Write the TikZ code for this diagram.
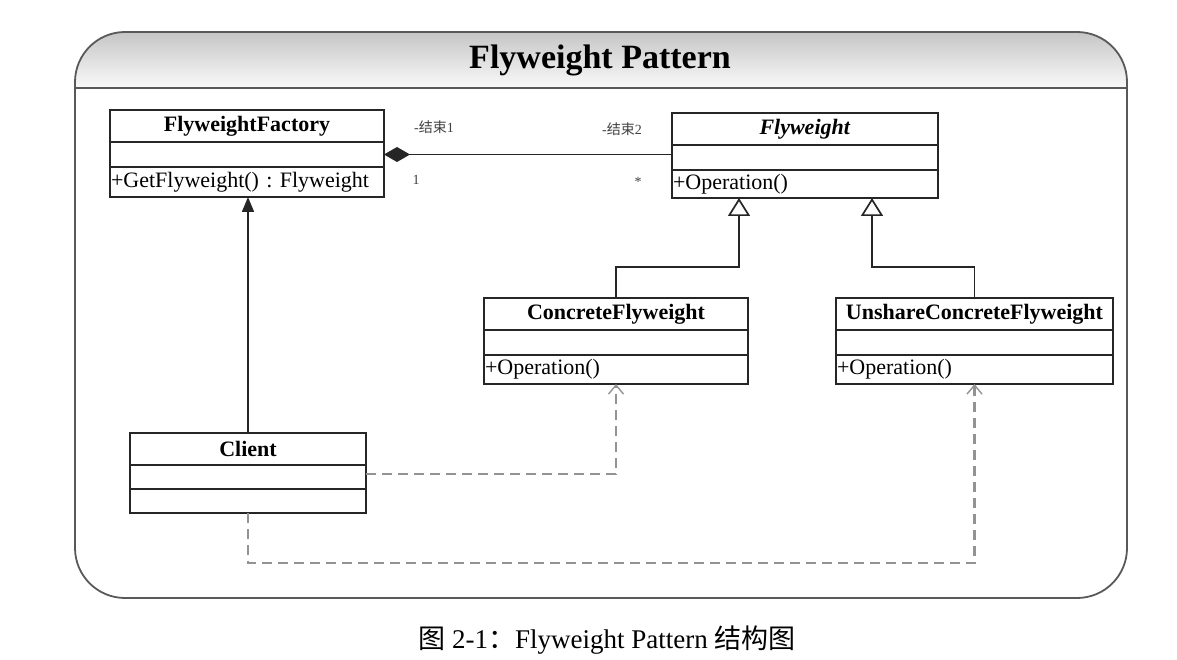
\documentclass[tikz,border=0pt]{standalone}
\usepackage{fontspec}
\setmainfont{Liberation Serif}
\newfontfamily\cjk{Noto Sans CJK SC}
\usetikzlibrary{arrows.meta, positioning}
\tikzstyle{frame} = [draw=black!65, line width=1.8pt, rounded corners=50pt]
\tikzstyle{classname} = [rectangle, draw=black!85, line width=1.7pt, inner sep=0pt, outer sep=0pt, minimum height=32pt, font=\fontsize{22}{26}\selectfont\bfseries]
\tikzstyle{classattr} = [rectangle, draw=black!85, line width=1.7pt, inner sep=0pt, outer sep=0pt, minimum height=25pt]
\tikzstyle{classop} = [rectangle, draw=black!85, line width=1.7pt, inner xsep=1pt, inner ysep=0pt, outer sep=0pt, minimum height=29pt, align=left, font=\fontsize{22}{26}\selectfont\frenchspacing]
\tikzstyle{rolelabel} = [inner sep=0pt, text=black!75, font=\fontsize{14}{16}\selectfont]
\tikzstyle{composition} = [draw=black!85, line width=1.7pt, {Diamond[length=26pt,width=15pt]}-]
\tikzstyle{navigate} = [draw=black!85, line width=1.7pt, -{Triangle[length=15pt,width=12pt]}]
\tikzstyle{inherit} = [draw=black!85, line width=1.7pt, -{Triangle[open,length=18pt,width=22pt,fill=white]}]
\tikzstyle{depend} = [draw=gray!85, line width=2.2pt, dash pattern=on 10pt off 6pt, -{Straight Barb[length=9pt,width=15pt,line width=1.4pt]}]

\begin{document}
\begin{tikzpicture}[x=1pt, y=-1pt]
	\useasboundingbox (0,0) rectangle (1177,660);

	% frame and title band
	\begin{scope}
		\clip [rounded corners=50pt] (75,32) rectangle (1127,598);
		\fill [top color=gray!45, bottom color=gray!4] (75,32) rectangle (1127,88);
	\end{scope}
	\draw [frame] (75,32) rectangle (1127,598);
	\draw [frame] (75,88) -- (1127,88);
	\node (title) at (600,60) [font=\fontsize{34}{40}\selectfont\bfseries] {Flyweight Pattern};

	% classes
	\node (factory) [classname, minimum width=274pt] at (247,126) {FlyweightFactory};
	\node (factory-attr) [classattr, minimum width=274pt, below=0pt of factory] {};
	\node (factory-op) [classop, minimum height=30pt, text width=272pt, below=0pt of factory-attr] {+GetFlyweight() : Flyweight};

	\node (flyweight) [classname, minimum width=266pt] at (805,129) {\textit{Flyweight}};
	\node (flyweight-attr) [classattr, minimum width=266pt, below=0pt of flyweight] {};
	\node (flyweight-op) [classop, minimum height=28pt, text width=264pt, below=0pt of flyweight-attr] {+Operation()};

	\node (concrete) [classname, minimum width=264pt] at (616,314) {ConcreteFlyweight};
	\node (concrete-attr) [classattr, minimum width=264pt, below=0pt of concrete] {};
	\node (concrete-op) [classop, text width=262pt, below=0pt of concrete-attr] {+Operation()};

	\node (unshare) [classname, minimum width=277pt] at (974.5,314) {UnshareConcreteFlyweight};
	\node (unshare-attr) [classattr, minimum width=277pt, below=0pt of unshare] {};
	\node (unshare-op) [classop, text width=275pt, below=0pt of unshare-attr] {+Operation()};

	\node (client) [classname, minimum width=236pt] at (248,449) {Client};
	\node (client-attr) [classattr, minimum width=236pt, minimum height=24pt, below=0pt of client] {};
	\node (client-op) [classattr, minimum width=236pt, minimum height=24pt, below=0pt of client-attr] {};

	% role labels
	\node (end1) [rolelabel] at (434,127) {-{\cjk 结束}1};
	\node (mult1) [rolelabel] at (416,180) {1};
	\node (end2) [rolelabel] at (622,129) {-{\cjk 结束}2};
	\node (mult2) [rolelabel] at (638,182) {*};

	% relations
	\draw [composition] (factory-attr.east) -- (factory-attr.east -| flyweight-attr.west);
	\draw [navigate] (client.north) -- (client.north |- factory-op.south);
	\draw [inherit] (concrete.north) -- ++(0,-31) -| ([xshift=-66pt]flyweight-op.south);
	\draw [inherit] (unshare.north) -- ++(0,-31) -| ([xshift=67pt]flyweight-op.south);
	\draw [depend] ([yshift=3pt]client-attr.east) -| (concrete-op.south);
	\draw [depend] (client-op.south) -- ++(0,50) -| (unshare-op.south);

	\node (caption) at (607,640) [font=\fontsize{27}{32}\selectfont] {{\cjk 图} 2-1{\cjk ：}Flyweight Pattern {\cjk 结构图}};
\end{tikzpicture}
\end{document}
